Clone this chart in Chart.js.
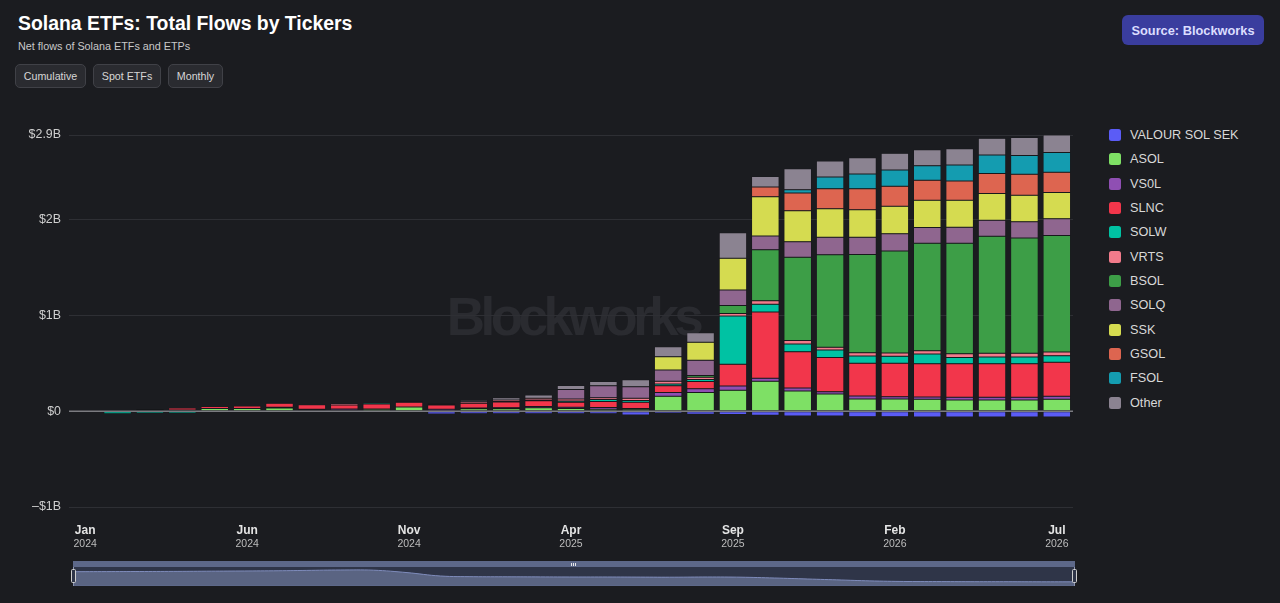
<!DOCTYPE html>
<html>
<head>
<meta charset="utf-8">
<script src="https://cdn.jsdelivr.net/npm/chart.js@4.4.1/dist/chart.umd.min.js"></script>
<style>
body{margin:0;background:#1b1c20;width:1280px;height:603px;overflow:hidden;position:relative;font-family:'Liberation Sans',Arial,sans-serif}
.abs{position:absolute}
#title{left:18px;top:14px;font-weight:bold;font-size:19.4px;line-height:19px;color:#fff;white-space:nowrap}
#subtitle{left:18px;top:41px;font-size:10.8px;line-height:11px;color:#c9c9c9;white-space:nowrap}
.btn{top:64px;height:24px;box-sizing:border-box;background:#2a2b30;border:1px solid #404147;border-radius:5px;color:#d6d6d6;font-size:10.7px;display:flex;align-items:center;justify-content:center}
#source{left:1122px;top:15px;width:142px;height:30px;background:#3a3d9e;border-radius:6px;color:#dcdeff;font-weight:bold;font-size:12.8px;display:flex;align-items:center;justify-content:center}
#main{left:0;top:100px}
#legend{left:1109px;top:123px}
.item{height:24.33px;display:flex;align-items:center;font-size:12.7px;color:#d8d8d8;white-space:nowrap}
.sw{width:12px;height:12px;border-radius:2.5px;margin-right:9px}
#nav{left:73px;top:561px;width:1002px;height:25px;background:#2f3548;border-bottom:1px solid #5d6889;box-sizing:border-box}
#navStrip{left:73px;top:561px;width:1002px;height:6px;background:#5d6889}
#navChart{left:73px;top:567px}
.grip{top:563px;width:1px;height:3px;background:#e8e8e8}
.handle{top:569px;width:5px;height:14px;box-sizing:border-box;border:1px solid #cfcfcf;border-radius:1.5px;background:#2f3548}
.hline{top:567px;width:1px;height:19px;background:#8a93b0}
</style>
</head>
<body>
<div id="title" class="abs">Solana ETFs: Total Flows by Tickers</div>
<div id="subtitle" class="abs">Net flows of Solana ETFs and ETPs</div>
<div class="abs btn" style="left:15px;width:71px">Cumulative</div>
<div class="abs btn" style="left:93px;width:68px">Spot ETFs</div>
<div class="abs btn" style="left:168px;width:55px">Monthly</div>
<div id="source" class="abs">Source: Blockworks</div>
<canvas id="main" class="abs" width="1090" height="460"></canvas>
<div id="legend" class="abs"></div>
<div id="nav" class="abs"></div>
<div id="navStrip" class="abs"></div>
<canvas id="navChart" class="abs" width="1002" height="18"></canvas>
<div class="abs grip" style="left:571px"></div>
<div class="abs grip" style="left:573px"></div>
<div class="abs grip" style="left:575px"></div>
<div class="abs hline" style="left:73px"></div>
<div class="abs hline" style="left:1074px"></div>
<div class="abs handle" style="left:71px"></div>
<div class="abs handle" style="left:1072px"></div>
<script>
const months = ["Jan 2024","Feb 2024","Mar 2024","Apr 2024","May 2024","Jun 2024","Jul 2024","Aug 2024","Sep 2024","Oct 2024","Nov 2024","Dec 2024",
"Jan 2025","Feb 2025","Mar 2025","Apr 2025","May 2025","Jun 2025","Jul 2025","Aug 2025","Sep 2025","Oct 2025","Nov 2025","Dec 2025",
"Jan 2026","Feb 2026","Mar 2026","Apr 2026","May 2026","Jun 2026","Jul 2026"];

// net flows, $ billions, one value per month
const valourSolSek = [0,0,0,0,0,0,-0.005,0.012,0.01,0,0,-0.028,-0.025,-0.025,-0.025,-0.025,-0.025,-0.04,-0.02,-0.03,-0.035,-0.042,-0.049,-0.049,-0.056,-0.056,-0.059,-0.059,-0.059,-0.059,-0.059];
const asol = [0,0,0.014,0.014,0.028,0.03,0.035,0,0,0.02,0.045,0,0.027,0.027,0.038,0.03,0.022,0.022,0.158,0.196,0.219,0.313,0.212,0.181,0.129,0.129,0.125,0.118,0.118,0.118,0.125];
const vs0l = [0,0,0,0,0,0,0.008,0.008,0.015,0.005,0,0.02,0.007,0.01,0.013,0.013,0.017,0.008,0.037,0.04,0.045,0.031,0.031,0.024,0.031,0.024,0.024,0.028,0.028,0.028,0.031];
const slnc = [0,0,0.011,0.019,0.022,0.026,0.042,0.048,0.041,0.05,0.05,0.045,0.05,0.06,0.06,0.05,0.063,0.063,0.072,0.075,0.226,0.692,0.379,0.358,0.341,0.348,0.348,0.351,0.351,0.351,0.355];
const solw = [-0.004,-0.025,-0.02,-0.02,-0.005,-0.005,0,0,0,0.014,0,0,0,0.005,0.007,0.013,0.02,0.02,0.018,0.02,0.504,0.083,0.08,0.076,0.076,0.073,0.101,0.066,0.07,0.07,0.07];
const vrts = [0,0,0,0,0,0,0.005,0,0.014,0,0.01,0.01,0.015,0.015,0.017,0.022,0.02,0.022,0.028,0.025,0.028,0.035,0.038,0.031,0.035,0.035,0.035,0.038,0.038,0.038,0.038];
const bsol = [0,0,0,0,0,0,0,0,0,0,0,0,0,0,0,0,0,0,0,0.018,0.083,0.532,0.869,0.966,1.025,1.064,1.123,1.154,1.224,1.206,1.217];
const solq = [0,0,0,0,0,0,0,0,0,0,0,0,0,0,0,0.1,0.125,0.12,0.118,0.158,0.163,0.146,0.163,0.181,0.181,0.181,0.163,0.167,0.167,0.17,0.174];
const ssk = [0,0,0,0,0,0,0,0,0,0,0,0,0,0,0,0,0,0,0.138,0.188,0.33,0.41,0.323,0.299,0.288,0.288,0.285,0.282,0.278,0.275,0.275];
const gsol = [0,0,0,0,0,0,0,0,0,0,0,0,0,0,0,0,0,0,0,0,0,0.1,0.184,0.209,0.219,0.209,0.209,0.202,0.209,0.219,0.212];
const fsol = [0,0,0,0,0,0,0,0,0,0,0,0,0,0,0,0,0,0,0,0,0,0,0.035,0.122,0.153,0.17,0.153,0.167,0.195,0.198,0.205];
const other = [0.003,0.003,0,0,0,0,0,0,0,0,0.008,0.008,0.015,0.025,0.035,0.04,0.043,0.075,0.105,0.1,0.268,0.111,0.219,0.167,0.17,0.174,0.167,0.17,0.174,0.188,0.184];

// navigator overview trend
const navigatorTrend = [13.3,13.4,13.5,13.6,13.8,14,14.2,14.6,15,14.8,12.4,9,8.3,8.2,8.1,8,8,7.9,7.8,8,7.8,7,6,5,4,3.5,3.4,3.3,3.3,3.2,3.2];

const tickers = ["VALOUR SOL SEK","ASOL","VS0L","SLNC","SOLW","VRTS","BSOL","SOLQ","SSK","GSOL","FSOL","Other"];
const series = [valourSolSek,asol,vs0l,slnc,solw,vrts,bsol,solq,ssk,gsol,fsol,other];
const colors = ["#5b5cf6","#7ee065","#8f4fb3","#f2364b","#00c2a3","#f27b8b","#3d9e47","#8f668f","#d5db50","#dd6550","#149cb0","#8b8391"];

const yMax = Math.max(...months.map((m, i) => series.reduce((s, d) => s + (d[i] > 0 ? d[i] : 0), 0)));
const yTicks = [-1, 0, 1, 2, yMax];

const FONT = "'Liberation Sans', Arial, sans-serif";
Chart.defaults.font.family = FONT;

function money(v) {
  if (Math.abs(v) < 1e-9) return "$0";
  const s = (Math.round(Math.abs(v) * 10) / 10).toString();
  return (v < 0 ? "\u2013" : "") + "$" + s + "B";
}

const watermark = {
  id: "watermark",
  beforeDraw(chart) {
    const {ctx, chartArea: a} = chart;
    ctx.save();
    ctx.font = "bold 53px " + FONT;
    ctx.letterSpacing = "-4.5px";
    ctx.fillStyle = "#2a2b30";
    ctx.textAlign = "center";
    ctx.fillText("Blockworks", (a.left + a.right) / 2 + 2, (a.top + a.bottom) / 2 + 14);
    ctx.restore();
  }
};

const zeroLine = {
  id: "zeroLine",
  afterDatasetsDraw(chart) {
    const {ctx, chartArea: a} = chart;
    const y = chart.scales.y.getPixelForValue(0);
    ctx.save();
    ctx.strokeStyle = "#7b7b80";
    ctx.lineWidth = 1.5;
    ctx.beginPath();
    ctx.moveTo(a.left, y);
    ctx.lineTo(a.right, y);
    ctx.stroke();
    ctx.restore();
  }
};

const yearLabels = {
  id: "yearLabels",
  afterDraw(chart) {
    const {ctx} = chart;
    const x = chart.scales.x;
    ctx.save();
    ctx.font = "10.5px " + FONT;
    ctx.fillStyle = "#bdbdbd";
    ctx.textAlign = "center";
    ctx.textBaseline = "middle";
    months.forEach((m, i) => {
      if (i % 5 !== 0) return;
      ctx.fillText(m.split(" ")[1], x.getPixelForTick(i), x.top + 37);
    });
    ctx.restore();
  }
};

new Chart(document.getElementById("main"), {
  type: "bar",
  data: {
    labels: months,
    datasets: series.map((d, k) => ({
      label: tickers[k],
      data: d,
      backgroundColor: colors[k],
      borderColor: "rgba(15,15,18,0.5)",
      borderWidth: 0.5,
      borderSkipped: false,
      barPercentage: 0.85,
      categoryPercentage: 1,
      stack: "flows"
    }))
  },
  options: {
    responsive: false,
    animation: false,
    layout: {padding: {top: 35, right: 17, left: 0, bottom: 0}},
    plugins: {legend: {display: false}, tooltip: {enabled: false}},
    scales: {
      x: {
        stacked: true,
        grid: {display: false},
        border: {display: false},
        afterFit(s) { s.height = 53; },
        ticks: {
          autoSkip: false,
          maxRotation: 0,
          padding: 8,
          color: "#e4e4e4",
          font: {size: 12, weight: "bold"},
          callback: (v, i) => i % 5 === 0 ? months[i].split(" ")[0] : ""
        }
      },
      y: {
        stacked: true,
        min: -1,
        max: yMax,
        afterFit(s) { s.width = 69; },
        afterBuildTicks(s) { s.ticks = yTicks.map(v => ({value: v})); },
        border: {display: false},
        grid: {
          drawTicks: false,
          color: c => c.tick && Math.abs(c.tick.value) < 1e-9 ? "rgba(0,0,0,0)" : "#2e2f34"
        },
        ticks: {
          padding: 8,
          color: "#cfcfcf",
          font: {size: 12.4},
          callback: v => money(v)
        }
      }
    }
  },
  plugins: [watermark, zeroLine, yearLabels]
});

new Chart(document.getElementById("navChart"), {
  type: "line",
  data: {
    labels: months,
    datasets: [{
      data: navigatorTrend,
      borderColor: "#7f8cbc",
      borderWidth: 1,
      backgroundColor: "#5a6482",
      fill: "origin",
      tension: 0.4,
      pointRadius: 0
    }]
  },
  options: {
    responsive: false,
    animation: false,
    layout: {padding: 0},
    plugins: {legend: {display: false}, tooltip: {enabled: false}},
    scales: {
      x: {display: false, offset: false},
      y: {display: false, min: 0, max: 18}
    }
  }
});

const legend = document.getElementById("legend");
tickers.forEach((name, k) => {
  const row = document.createElement("div");
  row.className = "item";
  row.innerHTML = '<div class="sw" style="background:' + colors[k] + '"></div>' + name;
  legend.appendChild(row);
});
</script>
</body>
</html>
